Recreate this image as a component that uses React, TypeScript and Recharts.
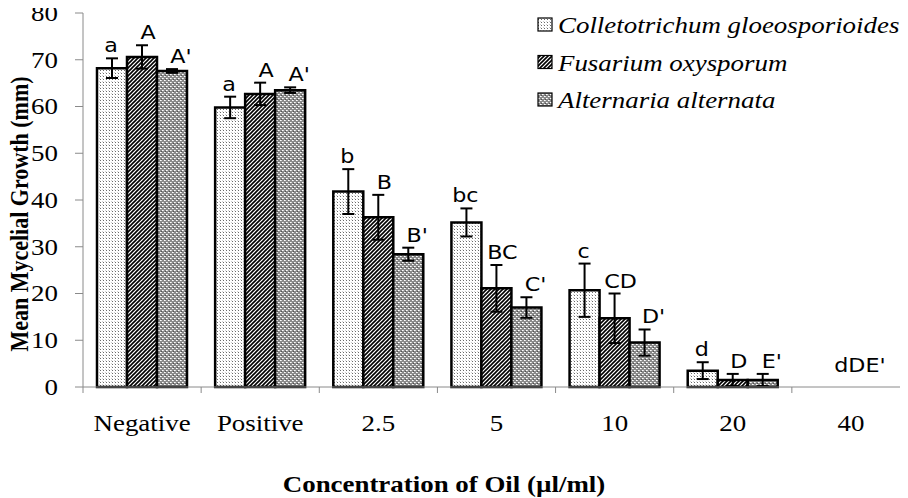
import React from 'react';
import { BarChart, Bar, XAxis, YAxis, ErrorBar, LabelList, Legend } from 'recharts';

const categories = ['Negative', 'Positive', '2.5', '5', '10', '20', '40'];
const seriesKeys = ['colletotrichum', 'fusarium', 'alternaria'];
const seriesNames = ['Colletotrichum gloeosporioides', 'Fusarium oxysporum', 'Alternaria alternata'];

const colletotrichum = [68.2, 59.8, 41.8, 35.2, 20.7, 3.5, 0];
const colletotrichumErr = [2.1, 2.3, 4.8, 3.0, 5.7, 1.8, null];
const colletotrichumLetters = ['a', 'a', 'b', 'bc', 'c', 'd', ''];

const fusarium = [70.6, 62.7, 36.3, 21.1, 14.7, 1.5, 0];
const fusariumErr = [2.5, 2.4, 4.8, 5.0, 5.3, 1.3, null];
const fusariumLetters = ['A', 'A', 'B', 'BC', 'CD', 'D', ''];

const alternaria = [67.6, 63.5, 28.4, 17.0, 9.5, 1.5, 0];
const alternariaErr = [0.4, 0.6, 1.4, 2.2, 2.8, 1.3, null];
const alternariaLetters = ["A'", "A'", "B'", "C'", "D'", "E'", ''];

// letters shared by the whole group (shown when no bars are drawn)
const groupLetters = ['', '', '', '', '', '', "dDE'"];

const yTicks = [0, 10, 20, 30, 40, 50, 60, 70, 80];

const data = categories.map((c, i) => ({
  category: c,
  colletotrichum: colletotrichum[i],
  colletotrichumErr: colletotrichumErr[i],
  fusarium: fusarium[i],
  fusariumErr: fusariumErr[i],
  alternaria: alternaria[i],
  alternariaErr: alternariaErr[i],
}));

const SX = 1.17;
const SERIF = '"Liberation Serif", "Times New Roman", serif';
const SANS = '"DejaVu Sans", Verdana, sans-serif';
const AXIS_GREY = '#8a8a8a';
const LABEL_SIZE = 19;

const patternIds: Record<string, string> = {
  colletotrichum: 'patDots',
  fusarium: 'patHatch',
  alternaria: 'patChecker',
};

const makeLabel = (letters: string[], errs: (number | null)[], dx: number) => (props: any) => {
  const { x, y, width, height, index, value } = props;
  const text = letters[index];
  if (!text) return null;
  const v = Number(value);
  const err = errs[index] ?? 0;
  let baseline: number;
  if (v > 0) {
    const ppu = Math.abs(height) / v;
    baseline = y - err * ppu - 6;
  } else {
    baseline = y + (height || 0) - 15;
  }
  const cx = x + width / 2 + dx;
  return (
    <g transform={`translate(${cx},${baseline}) scale(${SX},1)`}>
      <text x={0} y={0} textAnchor="middle" fontFamily={SANS} fontSize={LABEL_SIZE} fill="#000">
        {text}
      </text>
    </g>
  );
};

const XTick = (props: any) => {
  const { x, y, payload, index } = props;
  const off = payload?.offset ?? 0;
  const last = index === categories.length - 1;
  const groupText = groupLetters[index];
  return (
    <g>
      <line x1={x - off} y1={y} x2={x - off} y2={y + 6} stroke={AXIS_GREY} strokeWidth={1} />
      {last && <line x1={x + off} y1={y} x2={x + off} y2={y + 6} stroke={AXIS_GREY} strokeWidth={1} />}
      {groupText ? (
        <g transform={`translate(${x + 9},${y - 15}) scale(${SX},1)`}>
          <text x={0} y={0} textAnchor="middle" fontFamily={SANS} fontSize={LABEL_SIZE} fill="#000">
            {groupText}
          </text>
        </g>
      ) : null}
      <g transform={`translate(${x},${y + 44}) scale(${SX},1)`}>
        <text x={0} y={0} textAnchor="middle" fontFamily={SERIF} fontSize={23} fill="#000">
          {payload.value}
        </text>
      </g>
    </g>
  );
};

const YTick = (props: any) => {
  const { x, y, payload } = props;
  return (
    <g transform={`translate(${x},${y}) scale(${SX},1)`}>
      <text x={0} y={0} dy="0.34em" textAnchor="end" fontFamily={SERIF} fontSize={23} fill="#000">
        {payload.value}
      </text>
    </g>
  );
};

const YTitle = () => (
  <g transform={`translate(28,214) scale(${SX},1) rotate(-90)`}>
    <text x={0} y={0} textAnchor="middle" fontFamily={SERIF} fontWeight="bold" fontSize={22} fill="#000">
      Mean Mycelial Growth (mm)
    </text>
  </g>
);

const XTitle = () => (
  <g transform={`translate(444,492) scale(${SX},1)`}>
    <text x={0} y={0} textAnchor="middle" fontFamily={SERIF} fontWeight="bold" fontSize={23} fill="#000">
      Concentration of Oil (µl/ml)
    </text>
  </g>
);

const LegendContent = (props: any) => {
  const payload = [...(props.payload || [])].sort(
    (a: any, b: any) => seriesKeys.indexOf(a.dataKey) - seriesKeys.indexOf(b.dataKey)
  );
  return (
    <svg width={908} height={130} style={{ display: 'block', pointerEvents: 'none' }}>
      {payload.map((entry: any, i: number) => {
        const rowY = 18 + i * 37.5;
        return (
          <g key={entry.dataKey ?? i}>
            <rect x={538} y={rowY} width={14} height={13} fill={`url(#${patternIds[entry.dataKey]})`} stroke="#000" strokeWidth={1.2} />
            <g transform={`translate(558,${rowY + 15}) scale(${SX},1)`}>
              <text x={0} y={0} fontFamily={SERIF} fontStyle="italic" fontSize={23} fill="#000">
                {entry.value}
              </text>
            </g>
          </g>
        );
      })}
    </svg>
  );
};

export default function App() {
  return (
    <div style={{ margin: '-8px 0 0 -8px', width: 908, height: 498, overflow: 'hidden', position: 'relative' }}>
      <BarChart
        width={918}
        height={498}
        data={data}
        margin={{ top: 13, right: 8, bottom: 0, left: 0 }}
        barCategoryGap={14}
        barGap={0}
      >
        <defs>
          <pattern id="patDots" width={3} height={3} patternUnits="userSpaceOnUse">
            <rect x={0} y={0} width={3} height={3} fill="#ffffff" />
            <rect x={1} y={1} width={1} height={1} fill="#6a6a6a" />
            <rect x={0} y={0} width={1} height={1} fill="#d0d0d0" />
          </pattern>
          <pattern id="patHatch" width={4} height={4} patternUnits="userSpaceOnUse">
            <rect x={0} y={0} width={4} height={4} fill="#ffffff" />
            <path d="M-1,1 l2,-2 M0,4 l4,-4 M3,5 l2,-2" stroke="#000" strokeWidth={1.6} />
          </pattern>
          <pattern id="patChecker" width={4} height={4} patternUnits="userSpaceOnUse">
            <rect x={0} y={0} width={4} height={4} fill="#8a8a8a" />
            <rect x={0} y={0} width={1} height={1} fill="#ffffff" />
            <rect x={2} y={2} width={1} height={1} fill="#ffffff" />
            <rect x={1} y={0} width={1} height={1} fill="#dcdcdc" />
            <rect x={3} y={2} width={1} height={1} fill="#dcdcdc" />
            <rect x={1} y={3} width={1} height={1} fill="#505050" />
          </pattern>
        </defs>
        <XAxis
          dataKey="category"
          height={111}
          axisLine={{ stroke: AXIS_GREY, strokeWidth: 1 }}
          tickLine={false}
          tickSize={0}
          tickMargin={0}
          interval={0}
          tick={<XTick />}
          label={{ content: () => <XTitle /> }}
        />
        <YAxis
          width={83}
          domain={[0, 80]}
          ticks={yTicks}
          interval={0}
          axisLine={{ stroke: AXIS_GREY, strokeWidth: 1 }}
          tickLine={{ stroke: AXIS_GREY, strokeWidth: 1 }}
          tickSize={8}
          tickMargin={17}
          tick={<YTick />}
          label={{ content: () => <YTitle /> }}
        />
        <Legend
          layout="vertical"
          align="center"
          verticalAlign="middle"
          wrapperStyle={{ position: 'absolute', left: 0, top: 0, width: 908, height: 130 }}
          content={<LegendContent />}
        />
        <Bar dataKey="colletotrichum" name={seriesNames[0]} fill="url(#patDots)" stroke="#000" strokeWidth={2.5} isAnimationActive={false}>
          <ErrorBar dataKey="colletotrichumErr" width={6} stroke="#000" strokeWidth={2} />
          <LabelList dataKey="colletotrichum" content={makeLabel(colletotrichumLetters, colletotrichumErr, -1)} />
        </Bar>
        <Bar dataKey="fusarium" name={seriesNames[1]} fill="url(#patHatch)" stroke="#000" strokeWidth={2.5} isAnimationActive={false}>
          <ErrorBar dataKey="fusariumErr" width={6} stroke="#000" strokeWidth={2} />
          <LabelList dataKey="fusarium" content={makeLabel(fusariumLetters, fusariumErr, 6)} />
        </Bar>
        <Bar dataKey="alternaria" name={seriesNames[2]} fill="url(#patChecker)" stroke="#000" strokeWidth={2.5} isAnimationActive={false}>
          <ErrorBar dataKey="alternariaErr" width={6} stroke="#000" strokeWidth={2} />
          <LabelList dataKey="alternaria" content={makeLabel(alternariaLetters, alternariaErr, 9)} />
        </Bar>
      </BarChart>
    </div>
  );
}
